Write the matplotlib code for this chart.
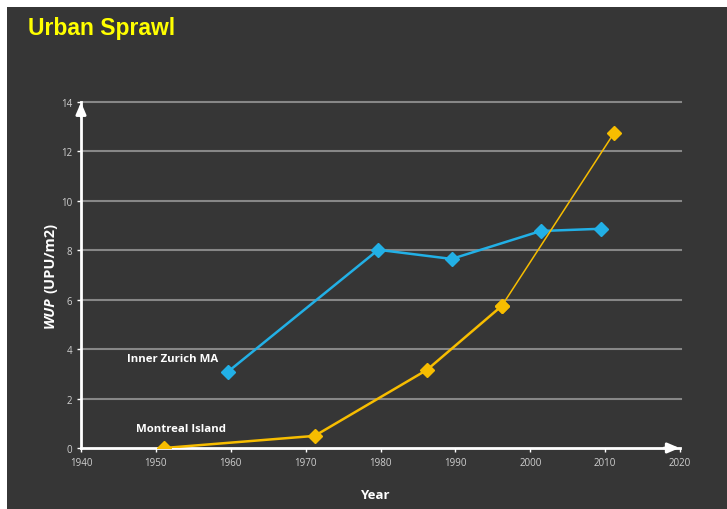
import matplotlib.pyplot as plt
from matplotlib.patches import Rectangle

# WUP values for the two study areas
zurich_years = [1959.6, 1979.7, 1989.5, 2001.4, 2009.4]
zurich_wup = [3.08, 8.02, 7.65, 8.78, 8.87]

montreal_years = [1951.1, 1971.2, 1986.2, 1996.2, 2011.2]
montreal_wup = [0.0, 0.49, 3.16, 5.75, 12.75]

x_ticks = [1940, 1950, 1960, 1970, 1980, 1990, 2000, 2010, 2020]
y_ticks = [0, 2, 4, 6, 8, 10, 12, 14]

bg = "#363636"
blue = "#22b0e6"
yellow = "#f7bd00"

fig = plt.figure(figsize=(7.27, 5.10), dpi=100)
fig.patch.set_facecolor("white")
fig.patches.append(Rectangle((7 / 727, 0), 1, (510 - 8) / 510, transform=fig.transFigure,
                             facecolor=bg, edgecolor="none", zorder=-5))

fig.text(28 / 727, 1 - 29 / 510, "Urban Sprawl", color="#ffff00", fontsize=16.5,
         fontweight="bold", family="Liberation Sans", va="center", ha="left")

ax = fig.add_axes([81 / 727, 61 / 510, (680 - 81) / 727, (449 - 103) / 510])
ax.set_facecolor("none")
ax.set_zorder(2)
ax.set_xlim(1940, 2020)
ax.set_ylim(0, 14)

for y in y_ticks[1:]:
    ax.plot([1940, 2020.1], [y, y], color="#878787", lw=1.5, zorder=1, clip_on=False)

ax.plot(zurich_years, zurich_wup, color=blue, lw=1.8, marker="D", ms=7, zorder=3)
ax.plot(montreal_years[:4], montreal_wup[:4], color=yellow, lw=1.8, marker="D", ms=7, zorder=3)
ax.plot(montreal_years[3:], montreal_wup[3:], color=yellow, lw=1.1, marker="D", ms=7, zorder=3)

for s in ["top", "right"]:
    ax.spines[s].set_visible(False)
for s in ["left", "bottom"]:
    ax.spines[s].set_color("white")
    ax.spines[s].set_linewidth(2)
    ax.spines[s].set_zorder(2)

# arrow heads at the axis ends
ax.annotate("", xy=(2020.3, 0), xytext=(2017.5, 0),
            arrowprops=dict(arrowstyle="-|>,head_length=0.7,head_width=0.3", color="white", lw=2),
            annotation_clip=False)
ax.annotate("", xy=(1940, 14.1), xytext=(1940, 13.3),
            arrowprops=dict(arrowstyle="-|>,head_length=0.7,head_width=0.3", color="white", lw=2),
            annotation_clip=False)

ax.set_xticks(x_ticks)
ax.set_yticks(y_ticks)
ax.tick_params(colors="white", labelcolor="#d0d0d0", labelsize=7, length=3, width=1)
for lab in ax.get_xticklabels() + ax.get_yticklabels():
    lab.set_family("Open Sans")

ax.set_xlabel("Year", color="white", fontsize=9.5, fontweight="bold", family="Open Sans")
ax.xaxis.set_label_coords(0.49, -0.115)

ax.text(1946.1, 3.64, "Inner Zurich MA", color="white", fontsize=8.2, fontweight="bold",
        family="Open Sans", ha="left", va="center")
ax.text(1947.35, 0.77, "Montreal Island", color="white", fontsize=8.2, fontweight="bold",
        family="Open Sans", ha="left", va="center")

# y label: italic "WUP" followed by the unit
t1 = fig.text(50 / 727, 1 - 328 / 510, "WUP", color="white", fontsize=10.5, fontweight="bold",
              fontstyle="italic", family="Open Sans", rotation=90, ha="center", va="bottom")
fig.canvas.draw()
bb = t1.get_window_extent()
fig.text(50 / 727, (bb.y1 + 3) / 510, "(UPU/m2)", color="white", fontsize=10.5, fontweight="bold",
         family="Open Sans", rotation=90, ha="center", va="bottom")

fig.savefig("out.png", dpi=100, facecolor=fig.get_facecolor())
